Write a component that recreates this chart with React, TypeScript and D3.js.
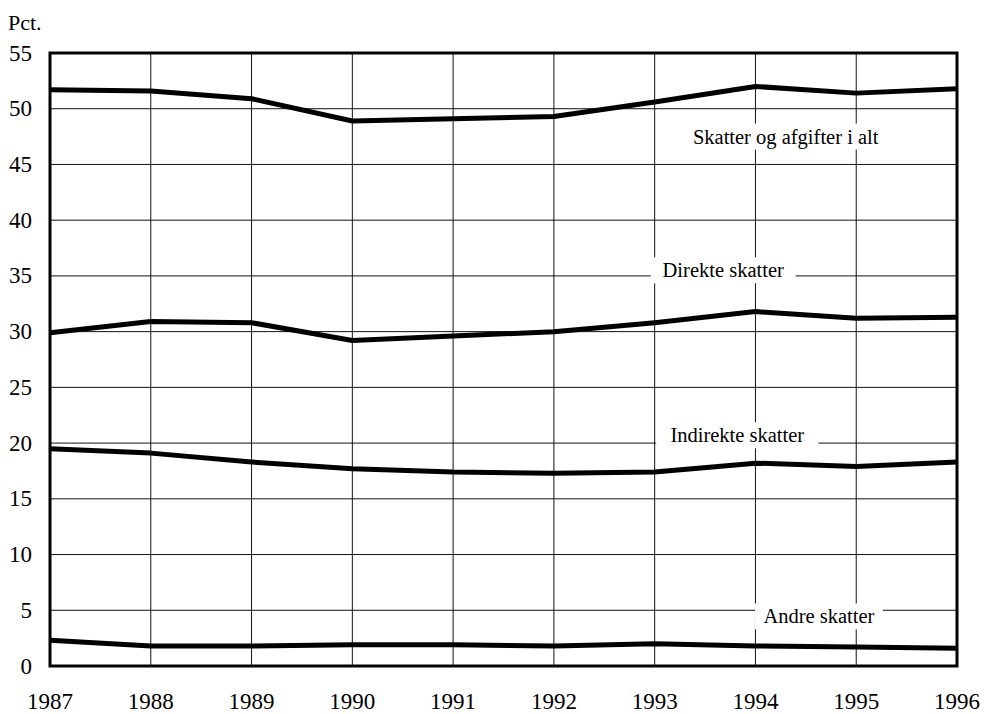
import * as d3 from "d3";

const years = [1987, 1988, 1989, 1990, 1991, 1992, 1993, 1994, 1995, 1996];
const total = [51.7, 51.6, 50.9, 48.9, 49.1, 49.3, 50.6, 52.0, 51.4, 51.8];
const direct = [29.9, 30.9, 30.8, 29.2, 29.6, 30.0, 30.8, 31.8, 31.2, 31.3];
const indirect = [19.5, 19.1, 18.3, 17.7, 17.4, 17.3, 17.4, 18.2, 17.9, 18.3];
const other = [2.3, 1.8, 1.8, 1.9, 1.9, 1.8, 2.0, 1.8, 1.7, 1.6];
const yTicks = [0, 5, 10, 15, 20, 25, 30, 35, 40, 45, 50, 55];

// label text, anchor year, anchor value (centre of the text)
const seriesLabels = [
  { text: "Skatter og afgifter i alt", year: 1994.3, value: 47.5 },
  { text: "Direkte skatter", year: 1993.68, value: 35.5 },
  { text: "Indirekte skatter", year: 1993.82, value: 20.7 },
  { text: "Andre skatter", year: 1994.63, value: 4.45 },
];

const width = 984;
const height = 714;
const margin = { left: 50, right: 27, top: 53, bottom: 48 };

export default function App() {
  const x = d3
    .scaleLinear()
    .domain([1987, 1996])
    .range([margin.left, width - margin.right]);
  const y = d3
    .scaleLinear()
    .domain([0, 55])
    .range([height - margin.bottom, margin.top]);

  const line = d3
    .line<number>()
    .x((d, i) => x(years[i]))
    .y((d) => y(d))
    .curve(d3.curveLinear);

  const series = [total, direct, indirect, other];
  const font = "'Liberation Serif', 'Times New Roman', serif";

  return (
    <div style={{ position: "absolute", left: 0, top: 0 }}>
      <svg width={width} height={height} style={{ display: "block", background: "#fff" }}>
        <rect x={0} y={0} width={width} height={height} fill="#fff" />
        <g className="grid" stroke="#111" strokeWidth={1}>
          {yTicks.map((t) => (
            <line key={t} x1={x(1987)} x2={x(1996)} y1={y(t)} y2={y(t)} />
          ))}
          {years.map((yr) => (
            <line key={yr} x1={x(yr)} x2={x(yr)} y1={y(0)} y2={y(55)} />
          ))}
        </g>
        <rect
          x={x(1987)}
          y={y(55)}
          width={x(1996) - x(1987)}
          height={y(0) - y(55)}
          fill="none"
          stroke="#000"
          strokeWidth={3}
        />
        {seriesLabels.map((l) => {
          const w = l.text.length * 8.6;
          return (
            <rect
              key={l.text + "bg"}
              x={x(l.year) - w / 2 - 8}
              y={y(l.value) - 13}
              width={w + 16}
              height={26}
              fill="#fff"
            />
          );
        })}
        {series.map((s, i) => (
          <path
            key={i}
            d={line(s) ?? ""}
            fill="none"
            stroke="#000"
            strokeWidth={5}
            strokeLinejoin="round"
          />
        ))}
        <g fontFamily={font} fill="#000">
          {seriesLabels.map((l) => (
            <text
              key={l.text}
              x={x(l.year)}
              y={y(l.value)}
              fontSize={20.5}
              textAnchor="middle"
              dominantBaseline="central"
            >
              {l.text}
            </text>
          ))}
          {yTicks.map((t) => (
            <text
              key={t}
              x={32}
              y={y(t)}
              fontSize={23}
              textAnchor="end"
              dominantBaseline="central"
            >
              {t}
            </text>
          ))}
          {years.map((yr) => (
            <text key={yr} x={x(yr)} y={709} fontSize={23} textAnchor="middle">
              {yr}
            </text>
          ))}
          <text x={8} y={30} fontSize={22}>
            Pct.
          </text>
        </g>
      </svg>
    </div>
  );
}
